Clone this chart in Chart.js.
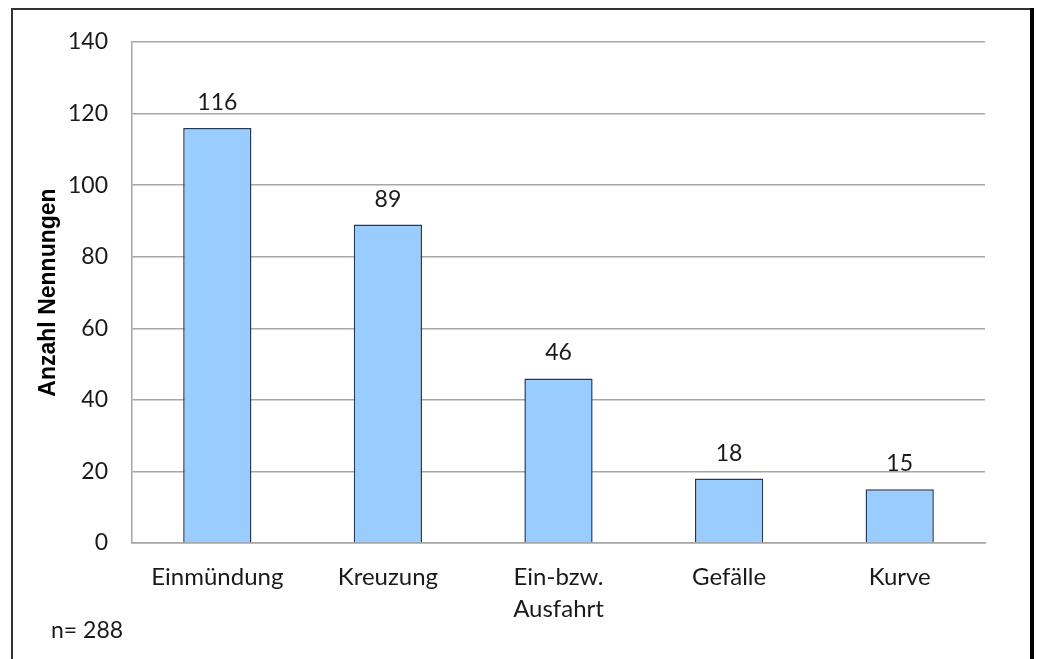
<!DOCTYPE html>
<html>
<head>
<meta charset="utf-8">
<script src="https://cdn.jsdelivr.net/npm/chart.js@4"></script>
<style>
  html, body { margin: 0; padding: 0; background: #fff; }
  #wrap { width: 1037px; height: 659px; }
</style>
</head>
<body>
<div id="wrap"><canvas id="barChart" width="1037" height="659"></canvas></div>
<script>
// data
const categories = ["Einmündung", "Kreuzung", ["Ein-bzw.", "Ausfahrt"], "Gefälle", "Kurve"];
const counts = [116, 89, 46, 18, 15];
const yTicks = [0, 20, 40, 60, 80, 100, 120, 140];
const sampleNote = "n= 288";

const FONT = "Lato, 'Open Sans', sans-serif";

// frame round the chart and the n= note
const framePlugin = {
  id: "frame",
  afterDraw(chart) {
    const ctx = chart.ctx;
    ctx.save();
    ctx.strokeStyle = "#333";
    ctx.lineWidth = 2;
    ctx.beginPath();
    ctx.moveTo(12, 659);
    ctx.lineTo(12, 9);
    ctx.lineTo(1030, 9);
    ctx.stroke();
    ctx.strokeStyle = "#000";
    ctx.lineWidth = 4;
    ctx.beginPath();
    ctx.moveTo(1032, 8);
    ctx.lineTo(1032, 659);
    ctx.stroke();

    ctx.fillStyle = "#1a1a1a";
    ctx.font = "23px " + FONT;
    ctx.textAlign = "left";
    ctx.textBaseline = "middle";
    ctx.fillText(sampleNote, 51, 631);
    ctx.restore();
  },
};

// value labels over the bars
const valueLabels = {
  id: "valueLabels",
  afterDatasetsDraw(chart) {
    const ctx = chart.ctx;
    const meta = chart.getDatasetMeta(0);
    ctx.save();
    ctx.fillStyle = "#1a1a1a";
    ctx.font = "23px " + FONT;
    ctx.textAlign = "center";
    ctx.textBaseline = "alphabetic";
    meta.data.forEach((bar, i) => {
      ctx.fillText(String(counts[i]), bar.x, bar.y - 18);
    });
    ctx.restore();
  },
};

new Chart(document.getElementById("barChart").getContext("2d"), {
  type: "bar",
  data: {
    labels: categories,
    datasets: [
      {
        data: counts,
        backgroundColor: "#99ccff",
        borderColor: "#223a55",
        borderWidth: 1.5,
        barPercentage: 0.8,
        categoryPercentage: 0.5,
      },
    ],
  },
  options: {
    responsive: false,
    animation: false,
    layout: { padding: { left: 0, top: 42, right: 52, bottom: 0 } },
    plugins: {
      legend: { display: false },
      tooltip: { enabled: false },
    },
    scales: {
      x: {
        grid: { display: false, drawTicks: false },
        border: { display: true, color: "#a6a6a6", width: 1.5 },
        ticks: {
          color: "#1a1a1a",
          font: { family: FONT, size: 24, lineHeight: 1.3 },
          padding: 19,
          maxRotation: 0,
          autoSkip: false,
        },
        afterFit(scale) {
          scale.height = 116;
        },
      },
      y: {
        min: 0,
        max: 140,
        afterBuildTicks(scale) {
          scale.ticks = yTicks.map(v => ({ value: v }));
        },
        grid: { color: "#a6a6a6", lineWidth: 1.5, drawTicks: false },
        border: { display: true, color: "#a6a6a6", width: 1.5 },
        ticks: {
          color: "#1a1a1a",
          font: { family: FONT, size: 23 },
          padding: 24,
        },
        title: {
          display: true,
          text: "Anzahl Nennungen",
          color: "#000",
          font: { family: "'Liberation Sans', Arial, sans-serif", size: 23, weight: "bold", lineHeight: 1.2 },
          padding: { top: 35, bottom: 0 },
        },
        afterFit(scale) {
          scale.width = 132;
        },
      },
    },
  },
  plugins: [framePlugin, valueLabels],
});
</script>
</body>
</html>
